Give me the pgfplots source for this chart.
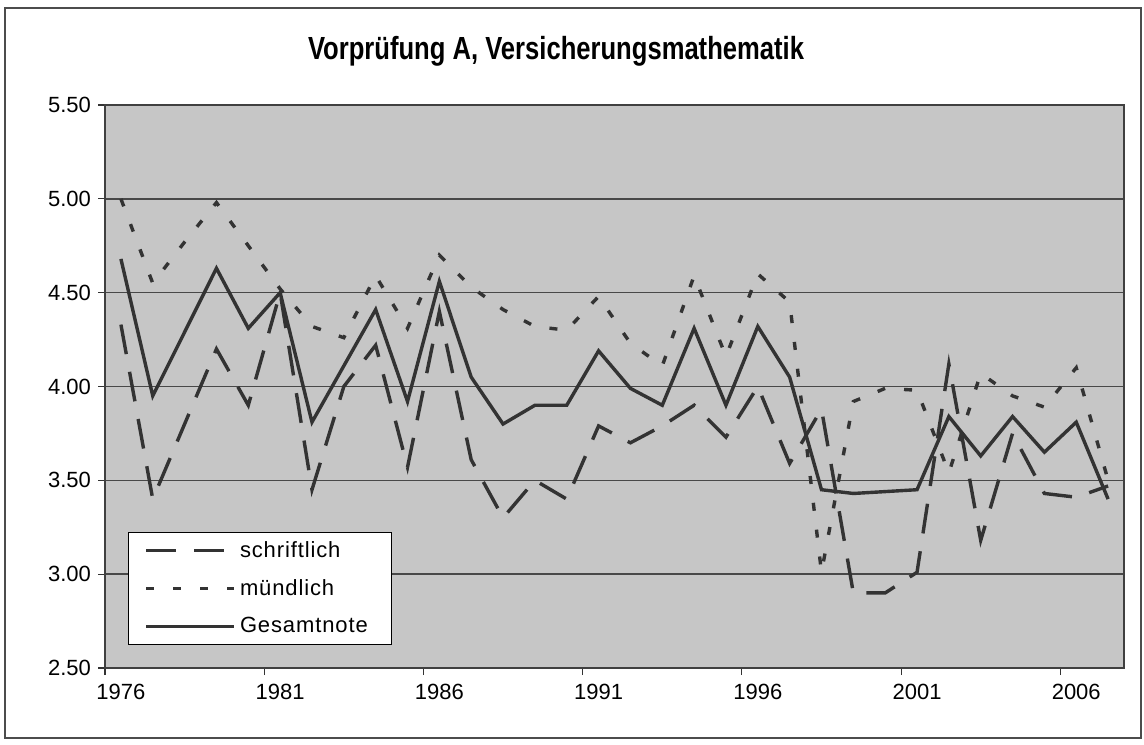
\documentclass[border=0pt]{standalone}
\usepackage{fontspec}
\setmainfont{Liberation Sans}
\newfontfamily\titlefont[FakeStretch=0.8]{Liberation Sans}
\newfontfamily\legfont[LetterSpace=4]{Liberation Sans}
\usepackage{pgfplots}
\pgfplotsset{compat=1.18}
\usepackage{pgfplotstable}
\definecolor{plotbg}{HTML}{C6C6C6}
\definecolor{ln}{HTML}{333333}
\definecolor{gridc}{HTML}{484848}

\pgfplotstableread{
year s m g
1976 4.33 5.00 4.68
1977 3.40 4.55 3.95
1978 3.80 4.77 4.29
1979 4.20 4.98 4.63
1980 3.90 4.75 4.31
1981 4.50 4.52 4.50
1982 3.45 4.32 3.81
1983 4.00 4.26 4.11
1984 4.22 4.59 4.41
1985 3.57 4.31 3.92
1986 4.40 4.70 4.56
1987 3.61 4.53 4.05
1988 3.30 4.41 3.80
1989 3.50 4.32 3.90
1990 3.40 4.30 3.90
1991 3.79 4.48 4.19
1992 3.70 4.23 3.99
1993 3.79 4.11 3.90
1994 3.90 4.59 4.31
1995 3.73 4.16 3.90
1996 4.00 4.60 4.32
1997 3.59 4.45 4.05
1998 3.88 3.01 3.45
1999 2.90 3.92 3.43
2000 2.90 3.99 3.44
2001 3.01 3.98 3.45
2002 4.12 3.54 3.84
2003 3.18 4.07 3.63
2004 3.75 3.95 3.84
2005 3.43 3.89 3.65
2006 3.41 4.10 3.81
2007 3.47 3.50 3.40
}\data

\begin{document}
\begin{tikzpicture}
\path[use as bounding box] (0,0) rectangle (572pt,372pt);
\draw[black!70, line width=0.8pt] (2.5pt,3pt) rectangle (570.5pt,368pt);
\node[anchor=base, inner sep=0pt, font=\titlefont\bfseries\fontsize{16}{19}\selectfont] at (278pt,342pt) {Vorprüfung A, Versicherungsmathematik};
\begin{axis}[
  at={(52.5pt,38pt)}, anchor=south west,
  width=509.5pt, height=281.5pt, scale only axis,
  xmin=1975.5, xmax=2007.5, ymin=2.5, ymax=5.5,
  axis background/.style={fill=plotbg},
  axis line style={black!75, line width=0.6pt},
  tick align=outside,
  xtick pos=left, ytick pos=left,
  major tick length=3.5pt,
  tick style={black!80, line width=0.6pt},
  xtick={1975.5,1980.5,1985.5,1990.5,1995.5,2000.5,2005.5},
  xticklabels={1976,1981,1986,1991,1996,2001,2006},
  xticklabel style={xshift=7.96pt, font=\fontsize{11}{13}\selectfont},
  ytick={2.5,3,3.5,4,4.5,5,5.5},
  yticklabel style={font=\fontsize{11}{13}\selectfont, /pgf/number format/.cd, fixed, fixed zerofill, precision=2},
  /pgf/number format/assume math mode=true,
  ymajorgrids,
  major grid style={gridc, line width=0.7pt},
  x tick label style={yshift=-1pt},
  legend style={at={(rel axis cs:0,0)}, anchor=south west, xshift=11.5pt, yshift=11.5pt,
    draw=black, line width=0.6pt, fill=white, font=\legfont\fontsize{11}{12}\selectfont,
    row sep=5.5pt, inner xsep=8pt, inner ysep=2.5pt},
  legend cell align=left,
  legend image code/.code={\draw[#1] (0pt,0pt) -- (44pt,0pt);},
]
\addplot[ln, line width=1.7pt, dash pattern=on 15pt off 9pt] table[x=year,y=s]{\data};
\addlegendentry{schriftlich}
\addplot[ln, line width=1.7pt, dash pattern=on 4pt off 9.5pt] table[x=year,y=m]{\data};
\addlegendentry{mündlich}
\addplot[ln, line width=1.7pt] table[x=year,y=g]{\data};
\addlegendentry{Gesamtnote\hspace*{2pt}}
\end{axis}
\end{tikzpicture}
\end{document}
